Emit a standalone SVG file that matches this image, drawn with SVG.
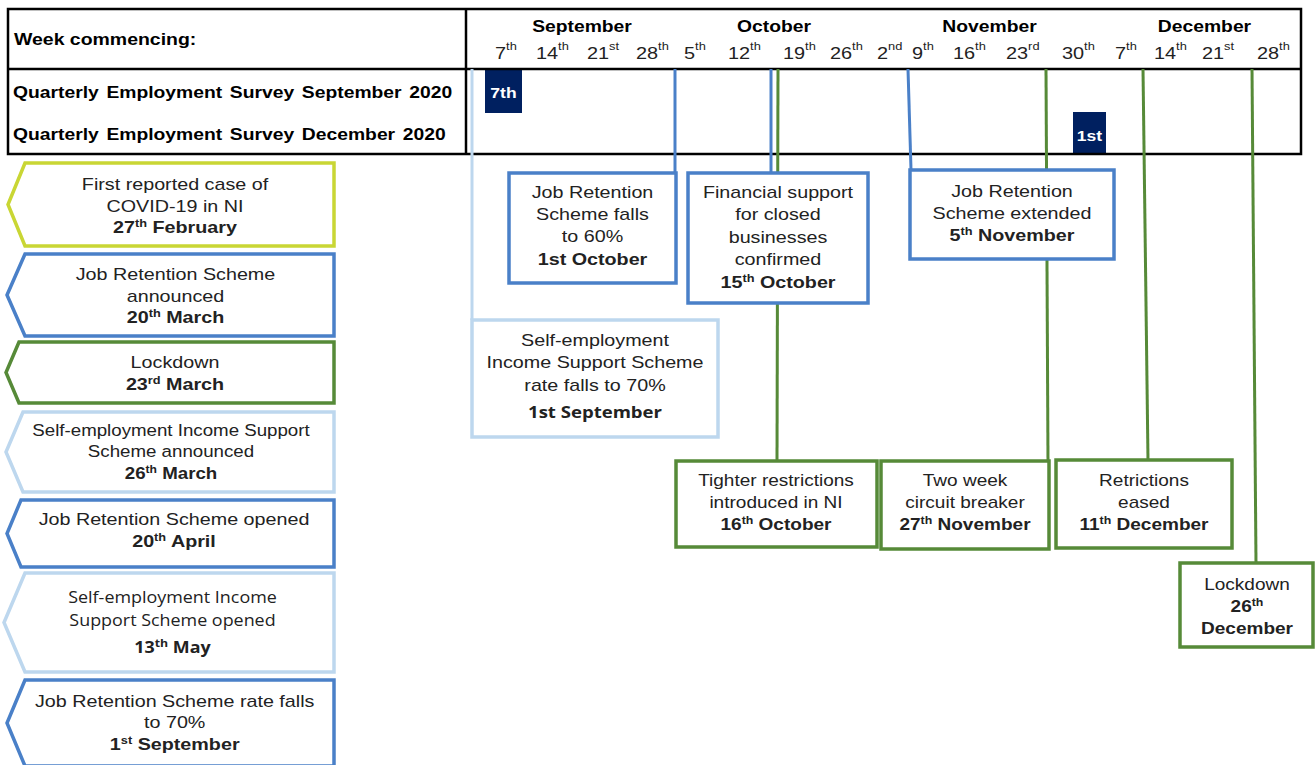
<svg xmlns="http://www.w3.org/2000/svg" width="1315" height="765" viewBox="0 0 1315 765">
<style>
.t{font-family:"Liberation Sans",Arial,sans-serif;font-size:17px;fill:#222;text-anchor:middle}
.os{font-family:"Open Sans","Liberation Sans",Arial,sans-serif;font-size:16px}
.b{font-weight:bold}
.h{font-family:"Liberation Sans",Arial,sans-serif;font-size:16.5px;font-weight:bold;fill:#000}
.q{word-spacing:2px}
.d{font-family:"Liberation Sans",Arial,sans-serif;font-size:17px;fill:#222}
.sup{font-size:11px}
.mk{font-family:"Liberation Sans",Arial,sans-serif;font-size:15px;font-weight:bold;fill:#fff;text-anchor:middle}
.blue{fill:#fff;stroke:#4a80c8;stroke-width:3.5}
.lblue{fill:#fff;stroke:#bdd7ee;stroke-width:3.5}
.green{fill:#fff;stroke:#568a38;stroke-width:3.5}
.lime{fill:#fff;stroke:#c9d634;stroke-width:3.5}
.cb{stroke:#4a80c8}
.cl{stroke:#bdd7ee}
.cg{stroke:#568a38}
</style>
<rect width="1315" height="765" fill="#fff"/>

<g id="header-table">
  <rect x="8" y="9" width="1293" height="145" fill="#fff" stroke="none"/>
  <text class="h" transform="translate(14 45) scale(1.18 1)">Week commencing:</text>
  <text class="h q" transform="translate(13 98) scale(1.17 1)">Quarterly Employment Survey September 2020</text>
  <text class="h q" transform="translate(13 140) scale(1.17 1)">Quarterly Employment Survey December 2020</text>
  <g text-anchor="middle">
    <text class="h" transform="translate(582 32) scale(1.17 1)">September</text>
    <text class="h" transform="translate(774 32) scale(1.17 1)">October</text>
    <text class="h" transform="translate(989.5 32) scale(1.17 1)">November</text>
    <text class="h" transform="translate(1204.5 32) scale(1.17 1)">December</text>
  </g>
  <g>
    <text class="d" transform="translate(495 59) scale(1.17 1)">7<tspan class="sup" dy="-9">th</tspan></text>
    <text class="d" transform="translate(536 59) scale(1.17 1)">14<tspan class="sup" dy="-9">th</tspan></text>
    <text class="d" transform="translate(587 59) scale(1.17 1)">21<tspan class="sup" dy="-9">st</tspan></text>
    <text class="d" transform="translate(636 59) scale(1.17 1)">28<tspan class="sup" dy="-9">th</tspan></text>
    <text class="d" transform="translate(684 59) scale(1.17 1)">5<tspan class="sup" dy="-9">th</tspan></text>
    <text class="d" transform="translate(728 59) scale(1.17 1)">12<tspan class="sup" dy="-9">th</tspan></text>
    <text class="d" transform="translate(783 59) scale(1.17 1)">19<tspan class="sup" dy="-9">th</tspan></text>
    <text class="d" transform="translate(830 59) scale(1.17 1)">26<tspan class="sup" dy="-9">th</tspan></text>
    <text class="d" transform="translate(877 59) scale(1.17 1)">2<tspan class="sup" dy="-9">nd</tspan></text>
    <text class="d" transform="translate(912 59) scale(1.17 1)">9<tspan class="sup" dy="-9">th</tspan></text>
    <text class="d" transform="translate(953 59) scale(1.17 1)">16<tspan class="sup" dy="-9">th</tspan></text>
    <text class="d" transform="translate(1006 59) scale(1.17 1)">23<tspan class="sup" dy="-9">rd</tspan></text>
    <text class="d" transform="translate(1062 59) scale(1.17 1)">30<tspan class="sup" dy="-9">th</tspan></text>
    <text class="d" transform="translate(1115 59) scale(1.17 1)">7<tspan class="sup" dy="-9">th</tspan></text>
    <text class="d" transform="translate(1154 59) scale(1.17 1)">14<tspan class="sup" dy="-9">th</tspan></text>
    <text class="d" transform="translate(1202 59) scale(1.17 1)">21<tspan class="sup" dy="-9">st</tspan></text>
    <text class="d" transform="translate(1257 59) scale(1.17 1)">28<tspan class="sup" dy="-9">th</tspan></text>
  </g>
</g>

<g id="qes-september">
  <rect x="485" y="70" width="37" height="43" fill="#002060"/>
  <text class="mk" transform="translate(503.5 98) scale(1.17 1)">7th</text>
</g>
<g id="qes-december">
  <rect x="1073" y="112" width="33" height="41" fill="#002060"/>
  <text class="mk" transform="translate(1089.5 141) scale(1.17 1)">1st</text>
</g>

<g id="table-lines" fill="none" stroke="#000" stroke-width="2.5">
  <rect x="8" y="9" width="1293" height="145"/>
  <line x1="8" y1="69" x2="1301" y2="69"/>
  <line x1="466" y1="9" x2="466" y2="154"/>
</g>

<g id="connectors" fill="none" stroke-width="3">
  <line class="cl" x1="472" y1="69" x2="472" y2="320"/>
  <line class="cb" x1="675" y1="69" x2="675" y2="173"/>
  <line class="cb" x1="771" y1="69" x2="771" y2="173"/>
  <line class="cg" x1="778" y1="69" x2="777" y2="461"/>
  <line class="cb" x1="908" y1="69" x2="911" y2="170"/>
  <line class="cg" x1="1046" y1="69" x2="1048" y2="461"/>
  <line class="cg" x1="1143" y1="69" x2="1148" y2="460"/>
  <line class="cg" x1="1252" y1="69" x2="1256" y2="563"/>
</g>

<g id="first-case">
  <polygon class="lime" points="25,163 334,163 334,246 25,246 8,204.5"/>
  <g transform="translate(175 0) scale(1.16 1)">
    <text class="t" y="190">First reported case of</text>
    <text class="t" y="212">COVID-19 in NI</text>
    <text class="t b" y="233">27<tspan class="sup" dy="-6">th</tspan><tspan dy="6"> February</tspan></text>
  </g>
</g>
<g id="jrs-announced">
  <polygon class="blue" points="25,254 334,254 334,336 25,336 7,295"/>
  <g transform="translate(175.5 0) scale(1.16 1)">
    <text class="t" y="280">Job Retention Scheme</text>
    <text class="t" y="302">announced</text>
    <text class="t b" y="323">20<tspan class="sup" dy="-6">th</tspan><tspan dy="6"> March</tspan></text>
  </g>
</g>
<g id="lockdown-march">
  <polygon class="green" points="19,342 334,342 334,403 19,403 6,372.5"/>
  <g transform="translate(175 0) scale(1.16 1)">
    <text class="t" y="368">Lockdown</text>
    <text class="t b" y="390">23<tspan class="sup" dy="-6">rd</tspan><tspan dy="6"> March</tspan></text>
  </g>
</g>
<g id="seiss-announced">
  <polygon class="lblue" points="23,412 334,412 334,492 23,492 6,452"/>
  <g transform="translate(171 0) scale(1.1 1)">
    <text class="t" y="436">Self-employment Income Support</text>
    <text class="t" y="457">Scheme announced</text>
    <text class="t b" y="479">26<tspan class="sup" dy="-6">th</tspan><tspan dy="6"> March</tspan></text>
  </g>
</g>
<g id="jrs-opened">
  <polygon class="blue" points="21,500 334,500 334,567 21,567 7,533.5"/>
  <g transform="translate(174 0) scale(1.16 1)">
    <text class="t" y="525">Job Retention Scheme opened</text>
    <text class="t b" y="547">20<tspan class="sup" dy="-6">th</tspan><tspan dy="6"> April</tspan></text>
  </g>
</g>
<g id="seiss-opened">
  <polygon class="lblue" points="25,573 334,573 334,672 25,672 4,622.5"/>
  <g transform="translate(172.5 0) scale(1.12 1)">
    <text class="t os" y="603">Self-employment Income</text>
    <text class="t os" y="626">Support Scheme opened</text>
    <text class="t os b" y="653">13<tspan class="sup" dy="-6">th</tspan><tspan dy="6"> May</tspan></text>
  </g>
</g>
<g id="jrs-rate-70">
  <polygon class="blue" points="25,680 334,680 334,766 25,766 7,723"/>
  <g transform="translate(174.7 0) scale(1.16 1)">
    <text class="t" y="707">Job Retention Scheme rate falls</text>
    <text class="t" y="728">to 70%</text>
    <text class="t b" y="750">1<tspan class="sup" dy="-6">st</tspan><tspan dy="6"> September</tspan></text>
  </g>
</g>

<g id="jrs-60">
  <rect class="blue" x="509" y="173" width="167" height="110"/>
  <g transform="translate(592.5 0) scale(1.16 1)">
    <text class="t" y="198">Job Retention</text>
    <text class="t" y="220">Scheme falls</text>
    <text class="t" y="242">to 60%</text>
    <text class="t b" y="265">1st October</text>
  </g>
</g>
<g id="financial-support">
  <rect class="blue" x="688" y="173" width="180" height="130"/>
  <g transform="translate(778 0) scale(1.16 1)">
    <text class="t" y="198">Financial support</text>
    <text class="t" y="220">for closed</text>
    <text class="t" y="243">businesses</text>
    <text class="t" y="265">confirmed</text>
    <text class="t b" y="288">15<tspan class="sup" dy="-6">th</tspan><tspan dy="6"> October</tspan></text>
  </g>
</g>
<g id="seiss-70">
  <rect class="lblue" x="472" y="320" width="246" height="117"/>
  <g transform="translate(595 0) scale(1.16 1)">
    <text class="t" y="346">Self-employment</text>
    <text class="t" y="368">Income Support Scheme</text>
    <text class="t" y="391">rate falls to 70%</text>
    <text class="t os b" y="418">1st September</text>
  </g>
</g>
<g id="jrs-extended">
  <rect class="blue" x="910" y="170" width="204" height="89"/>
  <g transform="translate(1012 0) scale(1.16 1)">
    <text class="t" y="197">Job Retention</text>
    <text class="t" y="219">Scheme extended</text>
    <text class="t b" y="241">5<tspan class="sup" dy="-6">th</tspan><tspan dy="6"> November</tspan></text>
  </g>
</g>
<g id="tighter-restrictions">
  <rect class="green" x="676" y="461" width="201" height="86"/>
  <g transform="translate(776 0) scale(1.12 1)">
    <text class="t" y="486">Tighter restrictions</text>
    <text class="t" y="508">introduced in NI</text>
    <text class="t b" y="530">16<tspan class="sup" dy="-6">th</tspan><tspan dy="6"> October</tspan></text>
  </g>
</g>
<g id="circuit-breaker">
  <rect class="green" x="881" y="461" width="168" height="88"/>
  <g transform="translate(965 0) scale(1.12 1)">
    <text class="t" y="486">Two week</text>
    <text class="t" y="508">circuit breaker</text>
    <text class="t b" y="530">27<tspan class="sup" dy="-6">th</tspan><tspan dy="6"> November</tspan></text>
  </g>
</g>
<g id="restrictions-eased">
  <rect class="green" x="1056" y="460" width="176" height="88"/>
  <g transform="translate(1144 0) scale(1.12 1)">
    <text class="t" y="486">Retrictions</text>
    <text class="t" y="508">eased</text>
    <text class="t b" y="530">11<tspan class="sup" dy="-6">th</tspan><tspan dy="6"> December</tspan></text>
  </g>
</g>
<g id="lockdown-december">
  <rect class="green" x="1180" y="563" width="133" height="84"/>
  <g transform="translate(1247 0) scale(1.12 1)">
    <text class="t" y="590">Lockdown</text>
    <text class="t b" y="612">26<tspan class="sup" dy="-6">th</tspan></text>
    <text class="t b" y="634">December</text>
  </g>
</g>
</svg>
